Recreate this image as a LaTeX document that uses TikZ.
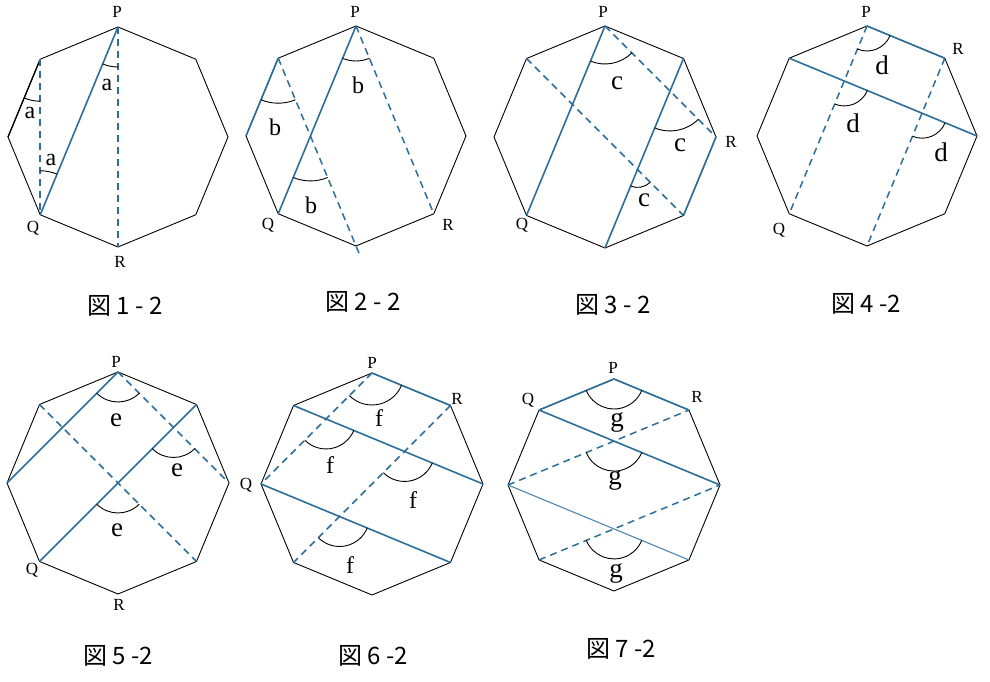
\documentclass[tikz,border=0pt]{standalone}
\usepackage{fontspec}
\newfontfamily\jp{Noto Sans CJK JP}
\newfontfamily\lab{Liberation Serif}
\usetikzlibrary{angles,calc}
\definecolor{lblue}{RGB}{45,110,155}
\definecolor{lblue2}{RGB}{80,135,175}
\tikzset{
 side/.style={draw=black, line width=0.9pt, line join=round},
 bl/.style={draw=lblue, line width=1.6pt},
 bld/.style={draw=lblue, line width=1.5pt, dash pattern=on 7pt off 5pt},
 ang/.style={draw=black, line width=0.9pt},
 vlab/.style={font=\lab\fontsize{17}{17}\selectfont, inner sep=0pt},
 alab/.style={font=\lab\fontsize{24}{24}\selectfont, inner sep=0pt},
 blab/.style={font=\lab\fontsize{27}{27}\selectfont, inner sep=0pt},
 capt/.style={font=\jp\fontsize{24}{24}\selectfont, inner sep=0pt},
}
\newcommand\octa[4]{%
 \foreach \k in {0,...,7}{\coordinate (#1\k) at ({#2+#4*cos(90+45*\k)},{#3+#4*sin(90+45*\k)});}
 \draw[side] (#10)--(#11)--(#12)--(#13)--(#14)--(#15)--(#16)--(#17)--cycle;}
\begin{document}
\begin{tikzpicture}[x=1pt,y=1pt]
\useasboundingbox[fill=white] (0,0) rectangle (990,682);
% ---------- Fig 1
\octa{A}{118}{545}{110}
\draw[side, line width=1.3pt] (A1)--(A2);
\draw[bld] (A0)--(A4);
\draw[bld] (A1)--(A3);
\draw[bl] (A0)--(A3);
\pic[ang, angle radius=40] {angle=A3--A0--A4};
\pic[ang, angle radius=42] {angle=A2--A1--A3};
\pic[ang, angle radius=44] {angle=A0--A3--A1};
\node[alab] (a1) at (107,597) {a};
\node[alab] (a2) at (30,569) {a};
\node[alab] (a3) at (51,522) {a};
\node[vlab] (P1) at (117,670) {P};
\node[vlab] (Q1) at (33,454) {Q};
\node[vlab] (R1) at (120,420) {R};
\node[capt] (c1) at (125,376) {図 1 - 2};
% ---------- Fig 2
\octa{B}{356}{546}{110}
\draw[bld] (B0)--(B5);
\draw[bld] (B1)--($(B1)!1.05!(B4)$);
\draw[bl] (B0)--(B3);
\draw[bl] (B1)--(B2);
\coordinate (BX) at (intersection of B0--B3 and B1--B4);
\pic[ang, angle radius=35] {angle=B3--B0--B5};
\pic[ang, angle radius=45] {angle=B2--B1--B4};
\pic[ang, angle radius=45] {angle=B3--BX--B4};
\node[alab] (b1) at (358,597) {b};
\node[alab] (b2) at (275,555) {b};
\node[alab] (b3) at (311,477) {b};
\node[vlab] (P2) at (355,670) {P};
\node[vlab] (Q2) at (268,457) {Q};
\node[vlab] (R2) at (448,457) {R};
\node[capt] (c2) at (363,380) {図 2 - 2};
% ---------- Fig 3
\octa{C}{605}{545}{111}
\draw[bld] (C0)--(C6);
\draw[bld] (C1)--(C5);
\draw[bl] (C0)--(C3);
\draw[bl] (C7)--(C4);
\draw[bl] (C6)--(C5);
\coordinate (CX) at (intersection of C0--C6 and C7--C4);
\coordinate (CY) at (intersection of C1--C5 and C7--C4);
\pic[ang, angle radius=38] {angle=C3--C0--C6};
\pic[ang, angle radius=40] {angle=C4--CX--C6};
\pic[ang, angle radius=18] {angle=C4--CY--C5};
\node[blab] (cc1) at (617,599) {c};
\node[blab] (cc2) at (680,537) {c};
\node[blab] (cc3) at (644,482) {c};
\node[vlab] (P3) at (603,670) {P};
\node[vlab] (Q3) at (522,457) {Q};
\node[vlab] (R3) at (731,540) {R};
\node[capt] (c3) at (613,377) {図 3 - 2};
% ---------- Fig 4
\octa{D}{867}{546}{110}
\draw[bld] (D0)--(D3);
\draw[bld] (D7)--(D4);
\draw[bl] (D0)--(D7);
\draw[bl] (D1)--(D6);
\coordinate (DX) at (intersection of D0--D3 and D1--D6);
\coordinate (DY) at (intersection of D7--D4 and D1--D6);
\pic[ang, angle radius=25] {angle=D3--D0--D7};
\pic[ang, angle radius=25] {angle=D3--DX--D6};
\pic[ang, angle radius=25] {angle=D4--DY--D6};
\node[blab] (d1) at (882,617) {d};
\node[blab] (d2) at (853,559) {d};
\node[blab] (d3) at (941,530) {d};
\node[vlab] (P4) at (866,670) {P};
\node[vlab] (Q4) at (779,452) {Q};
\node[vlab] (R4) at (958,633) {R};
\node[capt] (c4) at (866,378) {図 4 -2};
% ---------- Fig 5
\octa{E}{118}{199}{111}
\draw[bld] (E0)--(E6);
\draw[bld] (E1)--(E5);
\draw[bl] (E0)--(E2);
\draw[bl] (E7)--(E3);
\coordinate (EX) at (intersection of E7--E3 and E0--E6);
\coordinate (EY) at (intersection of E7--E3 and E1--E5);
\pic[ang, angle radius=30] {angle=E2--E0--E6};
\pic[ang, angle radius=30] {angle=E3--EX--E6};
\pic[ang, angle radius=30] {angle=E3--EY--E5};
\node[blab] (e1) at (116,262) {e};
\node[blab] (e2) at (177,212) {e};
\node[blab] (e3) at (117,152) {e};
\node[vlab] (P5) at (116,320) {P};
\node[vlab] (Q5) at (32,112) {Q};
\node[vlab] (R5) at (119,77) {R};
\node[capt] (c5) at (118,26) {図 5 -2};
% ---------- Fig 6
\octa{F}{372}{198}{111}
\draw[bld] (F0)--(F2);
\draw[bld] (F7)--(F3);
\draw[bl] (F0)--(F7);
\draw[bl] (F1)--(F6);
\draw[bl] (F2)--(F5);
\coordinate (FX) at (intersection of F0--F2 and F1--F6);
\coordinate (FY) at (intersection of F7--F3 and F1--F6);
\coordinate (FZ) at (intersection of F7--F3 and F2--F5);
\pic[ang, angle radius=32] {angle=F2--F0--F7};
\pic[ang, angle radius=30] {angle=F2--FX--F6};
\pic[ang, angle radius=30] {angle=F3--FY--F6};
\pic[ang, angle radius=30] {angle=F3--FZ--F5};
\node[alab] (f1) at (379,264) {f};
\node[alab] (f2) at (330,217) {f};
\node[alab] (f3) at (413,182) {f};
\node[alab] (f4) at (350,117) {f};
\node[vlab] (P6) at (372,319) {P};
\node[vlab] (Q6) at (246,197) {Q};
\node[vlab] (R6) at (457,283) {R};
\node[capt] (c6) at (373,26) {図 6 -2};
% ---------- Fig 7
\octa{G}{614}{197}{106}
\draw[bld] (G2)--(G7);
\draw[bld] (G3)--(G6);
\draw[bl] (G1)--(G0)--(G7);
\draw[bl] (G1)--(G6);
\draw[draw=lblue2, line width=1.1pt] (G2)--(G5);
\coordinate (GX) at (intersection of G1--G6 and G2--G7);
\coordinate (GY) at (intersection of G2--G5 and G3--G6);
\pic[ang, angle radius=30] {angle=G1--G0--G7};
\pic[ang, angle radius=30] {angle=G2--GX--G6};
\pic[ang, angle radius=30] {angle=G3--GY--G5};
\node[blab] (g1) at (617,260) {g};
\node[blab] (g2) at (615,202) {g};
\node[blab] (g3) at (616,109) {g};
\node[vlab] (P7) at (613,314) {P};
\node[vlab] (Q7) at (528,282) {Q};
\node[vlab] (R7) at (697,285) {R};
\node[capt] (c7) at (621,33) {図 7 -2};
\end{tikzpicture}
\end{document}
